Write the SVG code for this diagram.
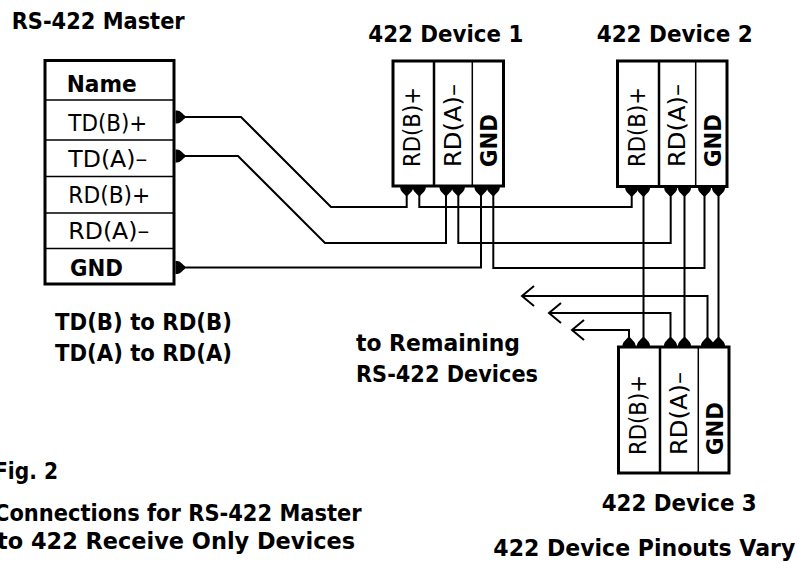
<svg xmlns="http://www.w3.org/2000/svg" xmlns:xlink="http://www.w3.org/1999/xlink" width="799" height="564" viewBox="0 0 799 564">
<style>
text{font-family:"DejaVu Sans","Liberation Sans",sans-serif;font-size:22.5px;fill:#000}
.b{font-weight:bold}
.r{font-weight:normal}
.box{fill:#fff;stroke:#000;stroke-width:3}
.div1{stroke:#000;stroke-width:2.5}
.div2{stroke:#000;stroke-width:1.5}
.row{stroke:#000;stroke-width:1.5}
.wire{fill:none;stroke:#000;stroke-width:2}
</style>
<defs>
<path id="pin" d="M-6.5,0 H6.5 V1.5 C6.5,5 3,7 1.3,9.5 H-1.3 C-3,7 -6.5,5 -6.5,1.5 Z" fill="#000"/>
<marker id="arr" markerUnits="userSpaceOnUse" viewBox="-15 -12 17 24" markerWidth="17" markerHeight="24" refX="0" refY="0" orient="auto" overflow="visible">
<path d="M-12,-10 L0,0 L-12,10" fill="none" stroke="#000" stroke-width="2"/>
</marker>
</defs>
<rect width="799" height="564" fill="#fff"/>

<g id="connectors" class="wire">
<path d="M176 117 H241 L331 207 H406.7 V192"/>
<path d="M176 156 H238 L325 243 H446 V192"/>
<path d="M176 267.5 H481 V192"/>
<path d="M419.3 192 V207 H631.7 V192"/>
<path d="M458.3 192 V243 H670.7 V192"/>
<path d="M493.3 192 V268 H704.5 V192"/>
<path d="M643.5 192 V341"/>
<path d="M684.5 192 V341"/>
<path d="M718.5 192 V341"/>
<path d="M629 341 V330 H572" marker-end="url(#arr)"/>
<path d="M670.5 341 V313 H549" marker-end="url(#arr)"/>
<path d="M707.5 341 V296 H522" marker-end="url(#arr)"/>
</g>

<g id="master">
<text class="b" x="11.7" y="29" textLength="173" lengthAdjust="spacingAndGlyphs">RS-422 Master</text>
<rect class="box" x="45" y="60.5" width="129" height="223.5"/>
<line class="row" x1="45" y1="100" x2="174" y2="100"/>
<line class="row" x1="45" y1="140" x2="174" y2="140"/>
<line class="row" x1="45" y1="176.5" x2="174" y2="176.5"/>
<line class="row" x1="45" y1="213" x2="174" y2="213"/>
<line class="row" x1="45" y1="248.5" x2="174" y2="248.5"/>
<text class="b" x="66.7" y="92" textLength="70" lengthAdjust="spacingAndGlyphs">Name</text>
<text class="r" x="68.3" y="130.5" textLength="79" lengthAdjust="spacingAndGlyphs">TD(B)+</text>
<text class="r" x="68.3" y="167" textLength="79" lengthAdjust="spacingAndGlyphs">TD(A)–</text>
<text class="r" x="68.3" y="203" textLength="82" lengthAdjust="spacingAndGlyphs">RD(B)+</text>
<text class="r" x="68.3" y="238.5" textLength="81" lengthAdjust="spacingAndGlyphs">RD(A)–</text>
<text class="b" x="70" y="275.5" textLength="53" lengthAdjust="spacingAndGlyphs">GND</text>
<use xlink:href="#pin" transform="translate(175.5,117) rotate(-90)"/>
<use xlink:href="#pin" transform="translate(175.5,156) rotate(-90)"/>
<use xlink:href="#pin" transform="translate(175.5,267.5) rotate(-90)"/>
</g>

<g id="device1">
<text class="b" x="368.3" y="42" textLength="155" lengthAdjust="spacingAndGlyphs">422 Device 1</text>
<rect class="box" x="393" y="61" width="110.5" height="125"/>
<line class="div1" x1="434" y1="61" x2="434" y2="186"/>
<line class="div2" x1="472.3" y1="61" x2="472.3" y2="186"/>
<text class="r" transform="translate(420,167) rotate(-90)" textLength="80" lengthAdjust="spacingAndGlyphs">RD(B)+</text>
<text class="r" transform="translate(460.5,167) rotate(-90)" textLength="83" lengthAdjust="spacingAndGlyphs">RD(A)–</text>
<text class="b" transform="translate(497,167) rotate(-90)" textLength="53" lengthAdjust="spacingAndGlyphs">GND</text>
<use xlink:href="#pin" x="406.7" y="186"/>
<use xlink:href="#pin" x="419.3" y="186"/>
<use xlink:href="#pin" x="446" y="186"/>
<use xlink:href="#pin" x="458.3" y="186"/>
<use xlink:href="#pin" x="481" y="186"/>
<use xlink:href="#pin" x="493.3" y="186"/>
</g>

<g id="device2">
<text class="b" x="596.7" y="42" textLength="156" lengthAdjust="spacingAndGlyphs">422 Device 2</text>
<rect class="box" x="617.5" y="61" width="109.5" height="125.5"/>
<line class="div1" x1="659" y1="61" x2="659" y2="186.5"/>
<line class="div2" x1="695.7" y1="61" x2="695.7" y2="186.5"/>
<text class="r" transform="translate(644.5,167) rotate(-90)" textLength="80" lengthAdjust="spacingAndGlyphs">RD(B)+</text>
<text class="r" transform="translate(685,167) rotate(-90)" textLength="83" lengthAdjust="spacingAndGlyphs">RD(A)–</text>
<text class="b" transform="translate(721,167) rotate(-90)" textLength="53" lengthAdjust="spacingAndGlyphs">GND</text>
<use xlink:href="#pin" x="631.7" y="186.5"/>
<use xlink:href="#pin" x="643.5" y="186.5"/>
<use xlink:href="#pin" x="670.7" y="186.5"/>
<use xlink:href="#pin" x="684.5" y="186.5"/>
<use xlink:href="#pin" x="704.5" y="186.5"/>
<use xlink:href="#pin" x="718.5" y="186.5"/>
</g>

<g id="device3">
<rect class="box" x="618.5" y="347" width="110.5" height="126"/>
<line class="div1" x1="660" y1="347" x2="660" y2="473"/>
<line class="div2" x1="698.3" y1="347" x2="698.3" y2="473"/>
<text class="r" transform="translate(645.5,455) rotate(-90)" textLength="80" lengthAdjust="spacingAndGlyphs">RD(B)+</text>
<text class="r" transform="translate(686.5,455) rotate(-90)" textLength="83" lengthAdjust="spacingAndGlyphs">RD(A)–</text>
<text class="b" transform="translate(722.5,455) rotate(-90)" textLength="53" lengthAdjust="spacingAndGlyphs">GND</text>
<use xlink:href="#pin" transform="translate(629,347) scale(1,-1)"/>
<use xlink:href="#pin" transform="translate(643.5,347) scale(1,-1)"/>
<use xlink:href="#pin" transform="translate(670.5,347) scale(1,-1)"/>
<use xlink:href="#pin" transform="translate(684.5,347) scale(1,-1)"/>
<use xlink:href="#pin" transform="translate(707.5,347) scale(1,-1)"/>
<use xlink:href="#pin" transform="translate(718.5,347) scale(1,-1)"/>
<text class="b" x="601.7" y="510.5" textLength="155" lengthAdjust="spacingAndGlyphs">422 Device 3</text>
</g>

<g id="labels">
<text class="b" x="55" y="329.5" textLength="177" lengthAdjust="spacingAndGlyphs">TD(B) to RD(B)</text>
<text class="b" x="55" y="360.5" textLength="177" lengthAdjust="spacingAndGlyphs">TD(A) to RD(A)</text>
<text class="b" x="356" y="350.5" textLength="164" lengthAdjust="spacingAndGlyphs">to Remaining</text>
<text class="b" x="356" y="382" textLength="182" lengthAdjust="spacingAndGlyphs">RS-422 Devices</text>
<text class="b" x="-6" y="478.5" textLength="64" lengthAdjust="spacingAndGlyphs">Fig. 2</text>
<text class="b" x="-6" y="520.5" textLength="367.7" lengthAdjust="spacingAndGlyphs">Connections for RS-422 Master</text>
<text class="b" x="-3" y="548.5" textLength="358" lengthAdjust="spacingAndGlyphs">to 422 Receive Only Devices</text>
<text class="b" x="493.3" y="555.5" textLength="302" lengthAdjust="spacingAndGlyphs">422 Device Pinouts Vary</text>
</g>
</svg>
